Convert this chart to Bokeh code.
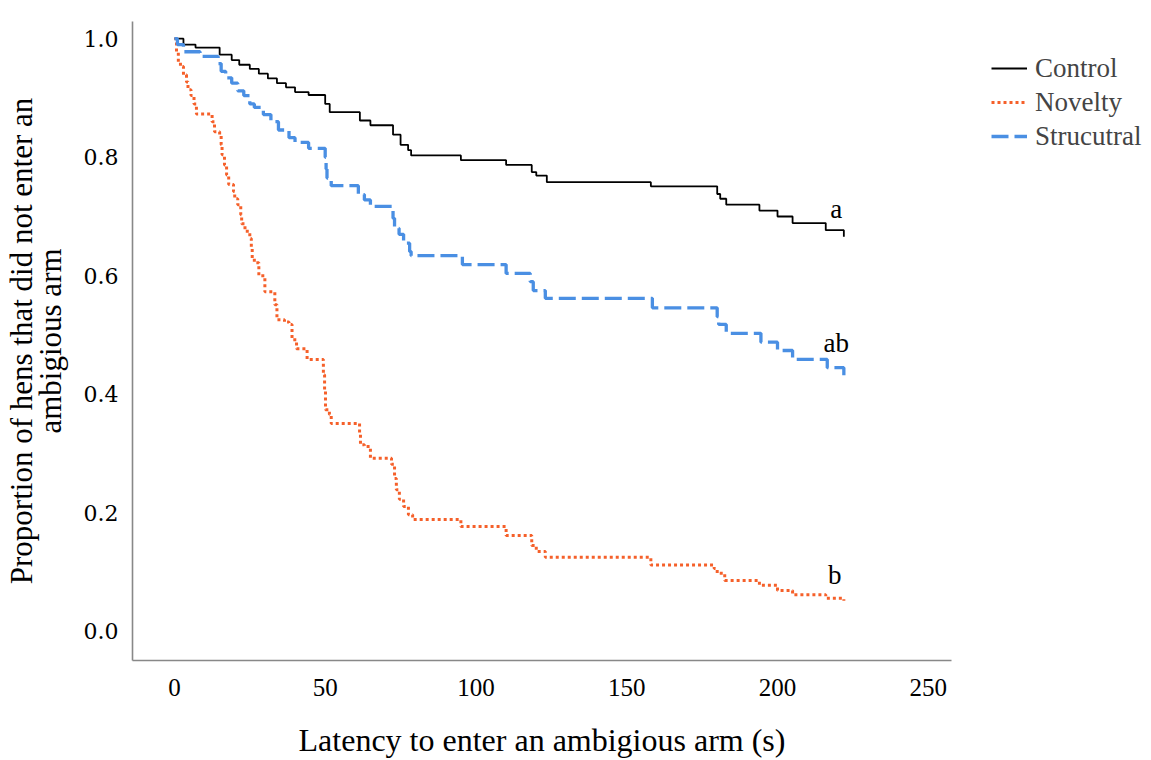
from bokeh.plotting import figure
from bokeh.models import Range1d, Legend, LegendItem, FixedTicker, PrintfTickFormatter, LinearAxis
from bokeh.core.properties import value
from bokeh.embed import file_html
from bokeh.resources import INLINE

# ---- data ----
control_t = [0, 3, 7, 15, 19, 21.5, 25, 28, 31, 34, 37, 40, 44.5, 50, 51.5, 61.5, 65, 72.5, 75,
             77.5, 78.5, 95, 110, 118.5, 120, 123.5, 158, 180, 181, 183, 194, 200, 205, 216, 222]
control_s = [1.000, 0.990, 0.985, 0.973, 0.964, 0.956, 0.949, 0.941, 0.933, 0.925, 0.918, 0.910,
             0.905, 0.890, 0.876, 0.862, 0.854, 0.838, 0.821, 0.812, 0.803, 0.795, 0.787, 0.775,
             0.769, 0.758, 0.751, 0.738, 0.730, 0.720, 0.710, 0.700, 0.689, 0.677, 0.666]

novelty_t = [0, 0.7, 1.3, 2, 3, 4, 4.5, 5.5, 6.5, 7.3, 12.5, 13.3, 15, 15.5, 15.8, 16.6, 17.3, 18,
             19.6, 20, 21, 22, 22.3, 23.4, 25, 25.5, 25.8, 26.5, 28, 30, 33.3, 34, 36.5, 38, 39,
             40.5, 44, 49.4, 49.8, 50.1, 51.4, 52, 61.4, 61.7, 63, 65, 72, 73, 73.6, 74.6, 76,
             77.6, 79, 95, 110, 118.5, 120, 123, 158, 179, 180, 182.5, 194, 200, 205, 216, 222]
novelty_s = [1.000, 0.978, 0.961, 0.953, 0.939, 0.927, 0.914, 0.904, 0.890, 0.873, 0.860, 0.843,
             0.836, 0.821, 0.804, 0.787, 0.770, 0.754, 0.742, 0.730, 0.720, 0.703, 0.688, 0.675,
             0.663, 0.646, 0.629, 0.622, 0.600, 0.573, 0.551, 0.526, 0.522, 0.518, 0.492, 0.477,
             0.459, 0.433, 0.405, 0.374, 0.366, 0.351, 0.334, 0.315, 0.312, 0.292, 0.282, 0.258,
             0.239, 0.223, 0.211, 0.197, 0.189, 0.177, 0.162, 0.145, 0.135, 0.125, 0.112, 0.106,
             0.098, 0.086, 0.078, 0.069, 0.062, 0.056, 0.052]

struct_t = [0, 1, 3, 8.5, 14.5, 15.5, 17, 19, 21, 23, 25, 26.5, 29.5, 32, 34.5, 38, 40, 44.5, 50,
            50.3, 50.6, 52, 61, 63, 65, 72.5, 73, 74.5, 76, 78, 78.5, 95.5, 110, 118, 119, 123,
            158.5, 180, 180.5, 183, 194.5, 200, 205, 216.5, 222]
struct_s = [1.000, 0.990, 0.978, 0.970, 0.958, 0.945, 0.934, 0.925, 0.912, 0.904, 0.890, 0.884,
            0.872, 0.860, 0.846, 0.833, 0.825, 0.815, 0.800, 0.780, 0.765, 0.752, 0.737, 0.728,
            0.717, 0.697, 0.680, 0.670, 0.655, 0.641, 0.634, 0.619, 0.604, 0.590, 0.575, 0.562,
            0.546, 0.531, 0.518, 0.503, 0.488, 0.474, 0.459, 0.445, 0.427]

group_names = ["Control", "Novelty", "Strucutral"]
sig_labels = ["a", "ab", "b"]
sig_x = [219.5, 219.5, 219.0]
sig_y = [0.712, 0.486, 0.095]

x_ticks = [0, 50, 100, 150, 200, 250]
y_ticks = [0.0, 0.2, 0.4, 0.6, 0.8, 1.0]
y_title_lines = ["Proportion of hens that did not enter an", "ambigious arm"]
x_title = "Latency to enter an ambigious arm (s)"

SERIF = "Liberation Serif"

p = figure(frame_width=819, frame_height=639, min_border_left=123, min_border_top=21,
           min_border_bottom=98, min_border_right=193,
           x_range=Range1d(-13.9, 257.7), y_range=Range1d(-0.049, 1.029),
           output_backend="svg", toolbar_location=None)
p.outline_line_color = None
p.background_fill_color = "white"
p.border_fill_color = "white"
p.xgrid.visible = False
p.ygrid.visible = False

for ax in (p.xaxis[0], p.yaxis[0]):
    ax.axis_line_color = "#888888"
    ax.axis_line_width = 1.6
    ax.major_tick_line_color = None
    ax.minor_tick_line_color = None
    ax.major_label_text_color = "black"
    ax.axis_label_text_font = SERIF
    ax.axis_label_text_font_style = "normal"
    ax.axis_label_text_color = "black"

p.xaxis.axis_label_text_font_size = "32px"
p.yaxis.axis_label_text_font_size = "31px"
p.xaxis.major_label_text_font = SERIF
p.xaxis.major_label_text_font_size = "25px"
p.yaxis.major_label_text_font = "DejaVu Serif"
p.yaxis.major_label_text_font_size = "22px"

p.xaxis.ticker = FixedTicker(ticks=x_ticks)
p.yaxis.ticker = FixedTicker(ticks=y_ticks)
p.yaxis.formatter = PrintfTickFormatter(format="%.1f")
p.xaxis.major_label_standoff = 12
p.yaxis.major_label_standoff = 8
p.xaxis.axis_label = x_title
p.yaxis.axis_label = y_title_lines[1]
p.xaxis.axis_label_standoff = 23
p.yaxis.axis_label_standoff = 13

outer = LinearAxis(axis_label=y_title_lines[0], ticker=FixedTicker(ticks=[]),
                   axis_line_color=None, major_tick_line_color=None,
                   minor_tick_line_color=None, major_label_text_font_size="0px",
                   major_label_standoff=0, axis_label_standoff=-9, axis_label_text_font=SERIF,
                   axis_label_text_font_size="31px", axis_label_text_font_style="normal",
                   axis_label_text_color="black")
p.add_layout(outer, "left")

r_c = p.step(control_t, control_s, mode="after", line_color="black", line_width=1.8)
r_n = p.step(novelty_t, novelty_s, mode="after", line_color="#F5602A", line_width=3,
             line_dash="3 3")
r_s = p.step(struct_t, struct_s, mode="after", line_color="#4A8FE3", line_width=3.3,
             line_dash="17 6")

p.text(x=sig_x, y=sig_y, text=sig_labels, text_font=value(SERIF), text_font_size="27px",
       text_align="center", text_baseline="middle", text_color="black")

legend = Legend(items=[LegendItem(label=group_names[0], renderers=[r_c]),
                       LegendItem(label=group_names[1], renderers=[r_n]),
                       LegendItem(label=group_names[2], renderers=[r_s])],
                location=(40, 507))
legend.border_line_color = None
legend.background_fill_alpha = 0
legend.label_text_font = SERIF
legend.label_text_font_size = "27px"
legend.glyph_width = 36
legend.glyph_height = 30
legend.label_height = 34
legend.spacing = 0
legend.padding = 0
legend.margin = 0
legend.label_standoff = 8
p.add_layout(legend, "right")

open("out.html", "w").write(file_html(p, INLINE))
